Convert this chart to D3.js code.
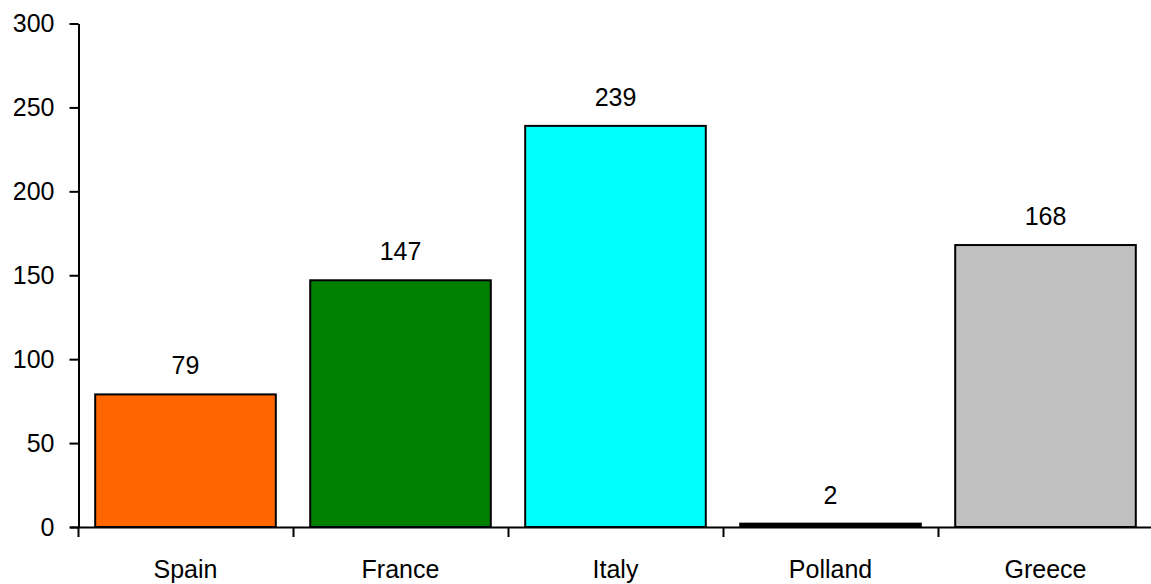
<!DOCTYPE html>
<html><head><meta charset="utf-8">
<script src="https://cdn.jsdelivr.net/npm/d3@7"></script>
<style>html,body{margin:0;padding:0;background:#fff;}svg{display:block;}</style>
</head><body>
<svg id="c" width="1151" height="584"></svg>
<script>
const categories = ["Spain", "France", "Italy", "Polland", "Greece"];
const values = [79, 147, 239, 2, 168];
const colors = ["#FF6600", "#008000", "#00FFFF", "#000000", "#C0C0C0"];
const yTicks = [0, 50, 100, 150, 200, 250, 300];

const svg = d3.select("#c");
const font = "Liberation Sans, Arial, sans-serif";
const fs = 25;
const x = d3.scaleBand().domain(categories).range([78, 1153]).paddingInner(0.16).paddingOuter(0.08);
const y = d3.scaleLinear().domain([0, 300]).range([527, 23.5]);

// bars
svg.selectAll("rect.bar").data(categories).enter().append("rect")
  .attr("x", d => x(d)).attr("width", x.bandwidth())
  .attr("y", (d, i) => y(values[i])).attr("height", (d, i) => y(0) - y(values[i]))
  .attr("fill", (d, i) => colors[i]).attr("stroke", "#000").attr("stroke-width", 2);

// value labels
svg.selectAll("text.val").data(categories).enter().append("text")
  .attr("x", d => x(d) + x.bandwidth() / 2).attr("y", (d, i) => y(values[i]) - 20)
  .attr("text-anchor", "middle").attr("font-family", font).attr("font-size", fs)
  .text((d, i) => values[i]);

// y axis
const yAxis = d3.axisLeft(y).tickValues(yTicks).tickSize(9).tickPadding(15).tickSizeOuter(0);
const gy = svg.append("g").attr("transform", "translate(78.5,0)").call(yAxis);
gy.select(".domain").attr("stroke", "#000").attr("stroke-width", 2);
gy.selectAll(".tick line").attr("stroke", "#000").attr("stroke-width", 2);
gy.selectAll(".tick text").attr("font-family", font).attr("font-size", fs).attr("fill", "#000");

// x axis line
svg.append("line").attr("x1", 70).attr("x2", 1151).attr("y1", 527.5).attr("y2", 527.5)
  .attr("stroke", "#000").attr("stroke-width", 2);
// x ticks at band edges
const edges = categories.map(d => x(d) - x.step() * 0.08).concat([x(categories[categories.length - 1]) - x.step() * 0.08 + x.step()]);
svg.selectAll("line.xt").data(edges).enter().append("line")
  .attr("x1", d => Math.round(d) + 0.5).attr("x2", d => Math.round(d) + 0.5)
  .attr("y1", 527).attr("y2", 537).attr("stroke", "#000").attr("stroke-width", 2);
// x labels
svg.selectAll("text.xl").data(categories).enter().append("text")
  .attr("x", d => x(d) + x.bandwidth() / 2).attr("y", 578)
  .attr("text-anchor", "middle").attr("font-family", font).attr("font-size", fs)
  .text(d => d);
</script>
</body></html>
